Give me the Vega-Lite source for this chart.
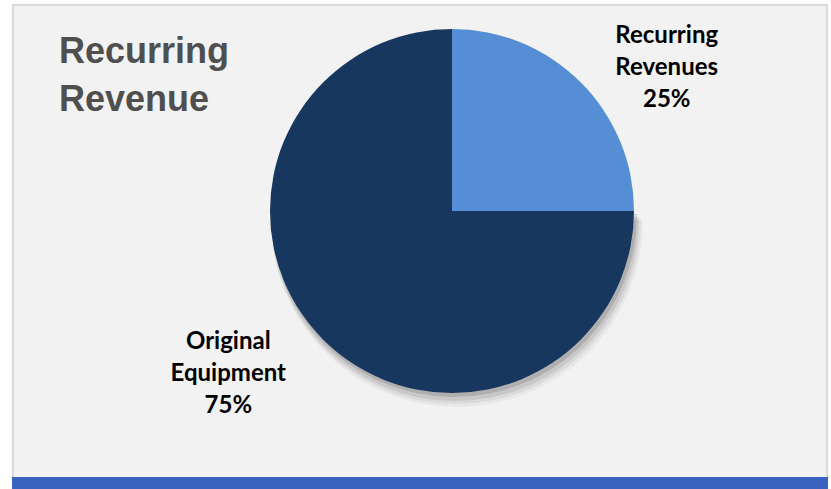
{
  "$schema": "https://vega.github.io/schema/vega-lite/v6.json",
  "width": 814,
  "height": 484,
  "autosize": {"type": "none"},
  "padding": {"left": 13, "top": 5, "right": 4, "bottom": 0},
  "background": "#ffffff",
  "view": {"fill": "#f2f2f2", "stroke": "#d9d9d9", "strokeWidth": 2},
  "title": {
    "text": ["Recurring", "Revenue"],
    "anchor": "start",
    "frame": "group",
    "orient": "top",
    "offset": 0,
    "baseline": "top",
    "dx": 46,
    "dy": 129,
    "font": "Liberation Sans",
    "fontSize": 36,
    "fontWeight": "bold",
    "color": "#4f4f4f",
    "lineHeight": 48
  },
  "data": {
    "values": [
      {"category": "Recurring Revenues", "value": 25, "label": "Recurring Revenues 25%"},
      {"category": "Original Equipment", "value": 75, "label": "Original Equipment 75%"}
    ]
  },
  "layer": [
    {
      "data": {"values": [{"part": "bar"}]},
      "mark": {"type": "rect", "x": 0, "x2": {"expr": "width"}, "y": {"expr": "height - 11"}, "y2": {"expr": "height + 2"}, "fill": "#3a63bf", "stroke": "#3a63bf", "strokeWidth": 2},
      "encoding": {}
    },
    {
      "mark": {"type": "arc", "x": 444, "y": 216, "radius": 186, "fill": "#000000"},
      "encoding": {
        "theta": {"field": "value", "type": "quantitative", "stack": true},
        "order": {"field": "value", "type": "quantitative", "sort": "ascending"},
        "opacity": {"condition": {"test": "datum.category === 'Original Equipment'", "value": 0.04}, "value": 0}
      }
    },
    {
      "mark": {"type": "arc", "x": 443, "y": 214, "radius": 185, "fill": "#000000"},
      "encoding": {
        "theta": {"field": "value", "type": "quantitative", "stack": true},
        "order": {"field": "value", "type": "quantitative", "sort": "ascending"},
        "opacity": {"condition": {"test": "datum.category === 'Original Equipment'", "value": 0.06}, "value": 0}
      }
    },
    {
      "mark": {"type": "arc", "x": 442, "y": 212, "radius": 184, "fill": "#000000"},
      "encoding": {
        "theta": {"field": "value", "type": "quantitative", "stack": true},
        "order": {"field": "value", "type": "quantitative", "sort": "ascending"},
        "opacity": {"condition": {"test": "datum.category === 'Original Equipment'", "value": 0.08}, "value": 0}
      }
    },
    {
      "mark": {"type": "arc", "x": 441, "y": 209, "radius": 183, "fill": "#000000"},
      "encoding": {
        "theta": {"field": "value", "type": "quantitative", "stack": true},
        "order": {"field": "value", "type": "quantitative", "sort": "ascending"},
        "opacity": {"condition": {"test": "datum.category === 'Original Equipment'", "value": 0.12}, "value": 0}
      }
    },
    {
      "mark": {"type": "arc", "x": 439, "y": 206, "radius": 182},
      "encoding": {
        "theta": {"field": "value", "type": "quantitative", "stack": true},
        "order": {"field": "value", "type": "quantitative", "sort": "ascending"},
        "color": {
          "field": "category",
          "type": "nominal",
          "scale": {"domain": ["Recurring Revenues", "Original Equipment"], "range": ["#558ed5", "#17375e"]},
          "legend": null
        }
      }
    },
    {
      "mark": {"type": "text", "x": 439, "y": 206, "radius": 240, "dx": 45, "dy": -5, "align": "center", "baseline": "middle", "lineBreak": " ", "lineHeight": 32, "font": "Lato", "fontSize": 24, "fontWeight": "bold", "fill": "#000000"},
      "encoding": {
        "theta": {"field": "value", "type": "quantitative", "stack": true},
        "order": {"field": "value", "type": "quantitative", "sort": "ascending"},
        "text": {"condition": {"test": "datum.category === 'Recurring Revenues'", "field": "label"}, "value": ""}
      }
    },
    {
      "mark": {"type": "text", "x": 439, "y": 206, "radius": 240, "dx": -54, "dy": -39, "align": "center", "baseline": "middle", "lineBreak": " ", "lineHeight": 32, "font": "Lato", "fontSize": 24, "fontWeight": "bold", "fill": "#000000"},
      "encoding": {
        "theta": {"field": "value", "type": "quantitative", "stack": true},
        "order": {"field": "value", "type": "quantitative", "sort": "ascending"},
        "text": {"condition": {"test": "datum.category === 'Original Equipment'", "field": "label"}, "value": ""}
      }
    }
  ]
}
